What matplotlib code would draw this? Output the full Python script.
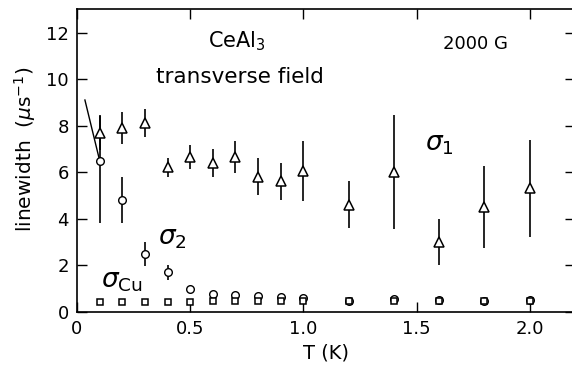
import matplotlib
matplotlib.use("Agg")
import matplotlib.pyplot as plt
import numpy as np

plt.rcParams['font.family'] = ['DejaVu Sans']
plt.rcParams['mathtext.fontset'] = 'dejavusans'

# sigma_1 (triangles)
t1 = [0.1, 0.2, 0.3, 0.4, 0.5, 0.6, 0.7, 0.8, 0.9, 1.0, 1.2, 1.4, 1.6, 1.8, 2.0]
s1 = [7.7, 7.9, 8.1, 6.2, 6.65, 6.4, 6.65, 5.8, 5.6, 6.05, 4.6, 6.0, 3.0, 4.5, 5.3]
s1_err = [0.75, 0.7, 0.6, 0.4, 0.5, 0.6, 0.7, 0.8, 0.8, 1.27, 1.0, 2.45, 1.0, 1.75, 2.07]

# sigma_2 (circles)
t2 = [0.1, 0.2, 0.3, 0.4, 0.5, 0.6, 0.7, 0.8, 0.9, 1.0, 1.2, 1.4, 1.6, 1.8, 2.0]
s2 = [6.5, 4.8, 2.5, 1.7, 0.98, 0.76, 0.72, 0.69, 0.65, 0.59, 0.48, 0.53, 0.5, 0.48, 0.5]
s2_err_lo = [2.7, 1.0, 0.55, 0.32, 0, 0, 0, 0, 0, 0, 0, 0, 0, 0, 0]
s2_err_hi = [1.9, 1.0, 0.5, 0.3, 0, 0, 0, 0, 0, 0, 0, 0, 0, 0, 0]

# sigma_Cu (squares)
tcu = [0.1, 0.2, 0.3, 0.4, 0.5, 0.6, 0.7, 0.8, 0.9, 1.0, 1.2, 1.4, 1.6, 1.8, 2.0]
scu = [0.4, 0.4, 0.4, 0.42, 0.42, 0.44, 0.44, 0.44, 0.44, 0.44, 0.45, 0.47, 0.45, 0.45, 0.45]

# guide line near low T
guide_t = [0.035, 0.1]
guide_s = [9.1, 6.5]

xticks = [0, 0.5, 1.0, 1.5, 2.0]
xticklabels = ['0', '0.5', '1.0', '1.5', '2.0']
yticks = [0, 2, 4, 6, 8, 10, 12]

fig = plt.figure(figsize=(5.72, 3.66), dpi=100)
ax = fig.add_axes([77/572, 1 - 311.7/366, (575-77)/572, (311.7-9.3)/366])

ax.errorbar(t1, s1, yerr=s1_err, fmt='^', ms=7, mfc='white', mec='black',
            mew=1.1, ecolor='black', elinewidth=1.2, capsize=0, zorder=3)
ax.errorbar(t2, s2, yerr=[s2_err_lo, s2_err_hi], fmt='o', ms=5.5, mfc='white',
            mec='black', mew=1.0, ecolor='black', elinewidth=1.2, capsize=0, zorder=3)
ax.plot(tcu, scu, 's', ms=4, mfc='white', mec='black', mew=1.1, zorder=4)
ax.plot(guide_t, guide_s, color='black', lw=1.0, zorder=2)

ax.set_xlim(0, 2.2)
ax.set_ylim(0, 13)
ax.set_xticks(xticks)
ax.set_xticklabels(xticklabels)
ax.set_yticks(yticks)
ax.tick_params(direction='in', length=7, width=1.0, labelsize=13,
               top=True, right=True, pad=6)
for s in ax.spines.values():
    s.set_linewidth(1.2)
ax.spines['right'].set_visible(False)

ax.set_xlabel('T (K)', fontsize=14, labelpad=4)
ax.set_ylabel(r'linewidth  ($\mu$s$^{-1}$)', fontsize=14.5)
ax.yaxis.set_label_coords(-0.078, 0.538)

ax.text(0.705, 11.65, r'CeAl$_3$', fontsize=15, ha='center', va='center')
ax.text(0.72, 10.1, 'transverse field', fontsize=15.5, ha='center', va='center')
ax.text(1.76, 11.5, '2000 G', fontsize=13, ha='center', va='center')
ax.text(1.6, 7.2, r'$\sigma_{\mathregular{1}}$', fontsize=19, ha='center', va='center')
ax.text(0.42, 3.15, r'$\sigma_2$', fontsize=19, ha='center', va='center')
ax.text(0.2, 1.3, r'$\sigma_{\mathrm{Cu}}$', fontsize=19, ha='center', va='center')

fig.savefig('out.png', dpi=100)
